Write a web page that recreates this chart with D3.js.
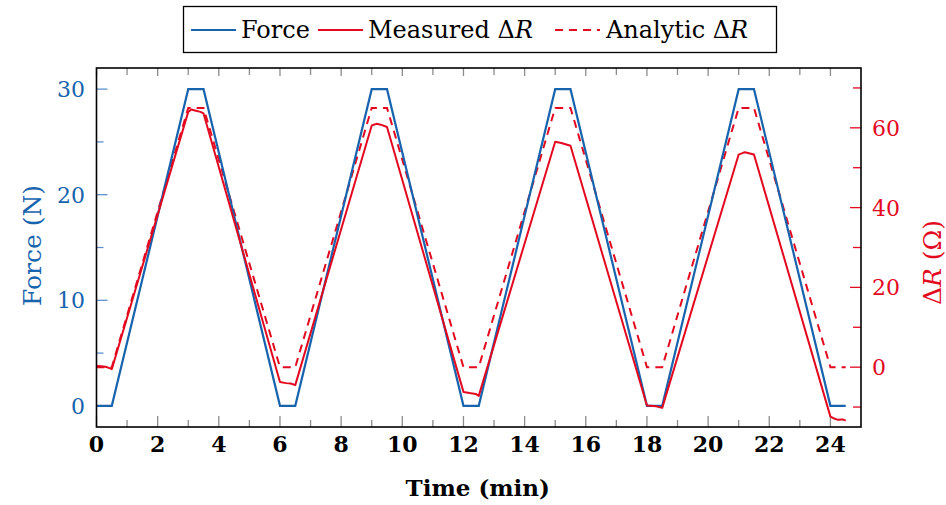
<!DOCTYPE html>
<html>
<head>
<meta charset="utf-8">
<script src="https://cdn.jsdelivr.net/npm/d3@7"></script>
<style>
  body { margin: 0; background: #fff; }
  svg text { font-family: "DejaVu Serif", serif; }
</style>
</head>
<body>
<svg id="chart" width="946" height="505"></svg>
<script>
// force profile (N) vs time (min)
var forceTimes = [0, 0.5, 3, 3.5, 6, 6.5, 9, 9.5, 12, 12.5, 15, 15.5, 18, 18.5, 21, 21.5, 24, 24.5];
var forceValues = [0, 0, 30, 30, 0, 0, 30, 30, 0, 0, 30, 30, 0, 0, 30, 30, 0, 0];
// analytic resistance change (ohm)
var analyticValues = [0, 0, 65, 65, 0, 0, 65, 65, 0, 0, 65, 65, 0, 0, 65, 65, 0, 0];
// measured resistance change [time, ohm]
var measuredPoints = [
  [0, 0.3], [0.15, 0.2], [0.3, 0.1], [0.45, -0.3], [0.5, -0.5],
  [3.0, 64.0], [3.1, 64.6], [3.25, 64.3], [3.4, 64.0], [3.5, 63.6],
  [6.0, -3.7], [6.2, -4.0], [6.35, -4.1], [6.5, -4.5],
  [9.0, 60.6], [9.15, 61.0], [9.3, 60.8], [9.5, 60.2],
  [12.0, -6.2], [12.2, -6.5], [12.4, -6.7], [12.5, -7.2],
  [15.0, 56.5], [15.2, 56.2], [15.5, 55.5],
  [18.0, -9.6], [18.3, -9.8], [18.5, -10.2],
  [21.0, 53.3], [21.2, 53.9], [21.5, 53.3],
  [24.0, -12.4], [24.1, -12.8], [24.25, -13.2], [24.4, -13.1], [24.5, -13.4]
];
var xMajor = [0, 2, 4, 6, 8, 10, 12, 14, 16, 18, 20, 22, 24];
var xMinor = [1, 3, 5, 7, 9, 11, 13, 15, 17, 19, 21, 23];
var forceMajor = [0, 10, 20, 30];
var forceMinor = [5, 15, 25];
var resMajor = [0, 20, 40, 60];
var resMinor = [-10, 10, 30, 50, 70];

var blue = "#1763ad", red = "#e3091f";

var svg = d3.select("#chart");
var plotL = 96.5, plotR = 861, plotT = 68, plotB = 427;

var x = d3.scaleLinear().domain([0, 25]).range([plotL, plotR]);
var yF = d3.scaleLinear().domain([-2, 32]).range([plotB, plotT]);
var yR = d3.scaleLinear().domain([-15, 75]).range([plotB, plotT]);

// ticks (drawn inward, before the lines)
function xTicks(vals, lenBottom, lenTop) {
  svg.append("g").selectAll("line").data(vals).enter().append("line")
    .attr("x1", function(d) { return x(d); }).attr("x2", function(d) { return x(d); })
    .attr("y1", plotB).attr("y2", plotB - lenBottom)
    .attr("stroke", "#8c8c8c").attr("stroke-width", 1.3);
  svg.append("g").selectAll("line").data(vals).enter().append("line")
    .attr("x1", function(d) { return x(d); }).attr("x2", function(d) { return x(d); })
    .attr("y1", plotT).attr("y2", plotT + lenTop)
    .attr("stroke", "#8c8c8c").attr("stroke-width", 1.3);
}
xTicks(xMajor, 11, 8);
xTicks(xMinor, 7, 7);

svg.append("g").selectAll("line").data(forceMajor.concat(forceMinor)).enter().append("line")
  .attr("x1", plotL).attr("x2", function(d) { return plotL + (forceMajor.indexOf(d) >= 0 ? 11 : 7); })
  .attr("y1", function(d) { return yF(d); }).attr("y2", function(d) { return yF(d); })
  .attr("stroke", "#5d92cc").attr("stroke-width", 1.3);

svg.append("g").selectAll("line").data(resMajor.concat(resMinor)).enter().append("line")
  .attr("x1", plotR).attr("x2", function(d) { return plotR - (resMajor.indexOf(d) >= 0 ? 11 : 8); })
  .attr("y1", function(d) { return yR(d); }).attr("y2", function(d) { return yR(d); })
  .attr("stroke", red).attr("stroke-width", 1.3);

// lines
var lineF = d3.line().x(function(d, i) { return x(forceTimes[i]); }).y(function(d) { return yF(d); });
var lineA = d3.line().x(function(d, i) { return x(forceTimes[i]); }).y(function(d) { return yR(d); });
var lineM = d3.line().x(function(d) { return x(d[0]); }).y(function(d) { return yR(d[1]); });

svg.append("path").attr("d", lineA(analyticValues)).attr("fill", "none")
  .attr("stroke", red).attr("stroke-width", 2).attr("stroke-dasharray", "8,6");
svg.append("path").attr("d", lineF(forceValues)).attr("fill", "none")
  .attr("stroke", blue).attr("stroke-width", 2.2);
svg.append("path").attr("d", lineM(measuredPoints)).attr("fill", "none")
  .attr("stroke", red).attr("stroke-width", 2).attr("stroke-linejoin", "round");

// frame
svg.append("rect").attr("x", plotL).attr("y", plotT).attr("width", plotR - plotL).attr("height", plotB - plotT)
  .attr("fill", "none").attr("stroke", "#000").attr("stroke-width", 1.6);

// tick labels
svg.append("g").selectAll("text").data(xMajor).enter().append("text")
  .attr("x", function(d) { return x(d); }).attr("y", 452)
  .attr("text-anchor", "middle").attr("font-size", 22).attr("font-weight", "bold")
  .text(function(d) { return d; });

svg.append("g").selectAll("text").data(forceMajor).enter().append("text")
  .attr("x", 85).attr("y", function(d) { return yF(d) + 8; })
  .attr("text-anchor", "end").attr("font-size", 22).attr("fill", blue)
  .text(function(d) { return d; });

svg.append("g").selectAll("text").data(resMajor).enter().append("text")
  .attr("x", 872).attr("y", function(d) { return yR(d) + 8; })
  .attr("text-anchor", "start").attr("font-size", 22).attr("fill", red)
  .text(function(d) { return d; });

// axis titles
svg.append("text").attr("x", (plotL + plotR) / 2 - 1).attr("y", 496)
  .attr("text-anchor", "middle").attr("font-size", 23).attr("font-weight", "bold")
  .text("Time (min)");

svg.append("text").attr("transform", "translate(41," + ((plotT + plotB) / 2 - 2) + ") rotate(-90)")
  .attr("text-anchor", "middle").attr("font-size", 25).attr("fill", blue)
  .text("Force (N)");

var rt = svg.append("text").attr("transform", "translate(941," + ((plotT + plotB) / 2 + 15) + ") rotate(-90)")
  .attr("text-anchor", "middle").attr("font-size", 25).attr("fill", red);
rt.append("tspan").text("Δ");
rt.append("tspan").attr("font-style", "italic").text("R");
rt.append("tspan").text(" (Ω)");

// legend
var lg = svg.append("g");
lg.append("rect").attr("x", 183.5).attr("y", 6.5).attr("width", 593).attr("height", 46)
  .attr("fill", "#fff").attr("stroke", "#000").attr("stroke-width", 1.3);
var legendItems = [
  {name: "Force", color: blue, dash: null, lx: 191, tx: 241},
  {name: "Measured ", color: red, dash: null, lx: 318, tx: 368},
  {name: "Analytic ", color: red, dash: "8,6", lx: 555, tx: 606}
];
legendItems.forEach(function(it, i) {
  lg.append("line").attr("x1", it.lx).attr("x2", it.lx + 45).attr("y1", 30).attr("y2", 30)
    .attr("stroke", it.color).attr("stroke-width", 2).attr("stroke-dasharray", it.dash);
  var t = lg.append("text").attr("x", it.tx).attr("y", 38).attr("font-size", 24);
  t.append("tspan").text(it.name);
  if (i > 0) {
    t.append("tspan").text("Δ");
    t.append("tspan").attr("font-style", "italic").text("R");
  }
});
</script>
</body>
</html>
